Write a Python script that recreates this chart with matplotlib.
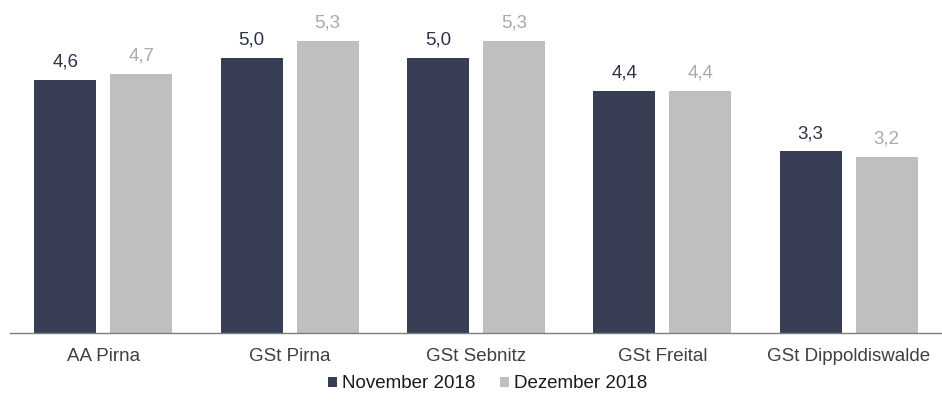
import numpy as np
import matplotlib.pyplot as plt

categories = ["AA Pirna", "GSt Pirna", "GSt Sebnitz", "GSt Freital", "GSt Dippoldiswalde"]
nov_2018 = [4.6, 5.0, 5.0, 4.4, 3.3]
dez_2018 = [4.7, 5.3, 5.3, 4.4, 3.2]
series_names = ["November 2018", "Dezember 2018"]

plt.rcParams["font.family"] = ["Liberation Sans", "DejaVu Sans"]

nov_color = "#383f54"
dez_color = "#bfbfbf"

fig = plt.figure(figsize=(9.42, 4.12), dpi=100)
ax = fig.add_axes([10 / 942, 79 / 412, 1 - 10 / 942, 333 / 412])

x = np.arange(len(categories))
width = 0.333
off = 0.204

bars1 = ax.bar(x - off, nov_2018, width, color=nov_color, label=series_names[0])
bars2 = ax.bar(x + off, dez_2018, width, color=dez_color, label=series_names[1])

for bar, v in zip(bars1, nov_2018):
    ax.text(bar.get_x() + bar.get_width() / 2, bar.get_height() + 0.17,
            f"{v:.1f}".replace(".", ","), ha="center", va="bottom",
            fontsize=13.5, color="#2e3447")
for bar, v in zip(bars2, dez_2018):
    ax.text(bar.get_x() + bar.get_width() / 2, bar.get_height() + 0.17,
            f"{v:.1f}".replace(".", ","), ha="center", va="bottom",
            fontsize=13.5, color="#aaaaaa")

ax.set_xlim(-0.5, len(categories) - 0.5)
ax.set_ylim(0, 6.05)
ax.set_xticks(x)
ax.set_xticklabels(categories, fontsize=13.5, color="#404040")
ax.tick_params(axis="x", length=0, pad=11)
ax.set_yticks([])
for s in ["top", "right", "left"]:
    ax.spines[s].set_visible(False)
ax.spines["bottom"].set_color("#7f7f7f")
ax.spines["bottom"].set_linewidth(1.0)

fig.legend(loc="center", bbox_to_anchor=(488 / 942, 1 - 384 / 412), ncol=2,
           frameon=False, fontsize=13.5, handlelength=0.45, handleheight=0.45,
           handletextpad=0.3, columnspacing=1.3, labelcolor="#1a1a1a")

fig.savefig("out.png", dpi=100)
